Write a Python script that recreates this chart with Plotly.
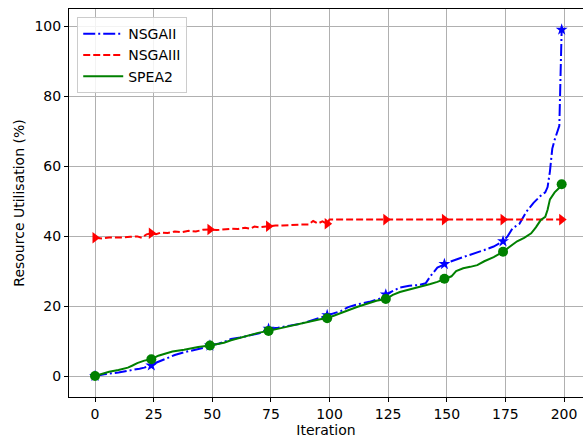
import plotly.graph_objects as go

# ---- data ----
nsga2_x = [0, 4, 10, 15, 19, 21, 24, 26, 28, 31, 34, 38, 42, 46, 49, 53, 56, 58, 62, 66, 70, 74,
           78, 83, 88, 92, 96, 99, 102, 105, 108, 112, 117, 121, 124, 127, 130, 134, 138, 141, 143,
           146, 149, 152, 157, 162, 166, 170, 174, 176, 178, 181, 184, 187, 190, 192, 193, 194, 195,
           196, 197, 198, 199]
nsga2_y = [0, 0.5, 1.0, 1.5, 2.1, 2.4, 3.0, 3.8, 4.4, 5.2, 6.0, 6.8, 7.3, 8.0, 8.7, 9.3, 10.0, 10.6,
           11.0, 11.6, 12.2, 13.5, 13.8, 14.4, 15.0, 15.8, 16.6, 17.4, 18.0, 18.6, 19.7, 20.5, 21.2,
           22.0, 23.3, 24.2, 25.3, 25.8, 26.0, 26.5, 28.5, 31.0, 32.0, 32.8, 34.0, 35.0, 36.0, 37.0,
           38.5, 40.0, 42.2, 43.5, 47.0, 49.5, 51.5, 52.5, 54.0, 58.5, 65.0, 67.5, 69.5, 71.5, 99.0]

nsga3_x = [0, 3, 6, 9, 12, 15, 18, 20, 22, 24, 26, 28, 31, 34, 37, 40, 43, 46, 49, 52, 55, 58, 61,
           64, 66, 68, 70, 74, 77, 80, 84, 88, 91, 93, 95, 97, 99, 100, 124, 149, 174, 199]
nsga3_y = [39.5, 39.3, 39.6, 39.5, 39.6, 39.8, 39.9, 39.5, 40.5, 40.8, 40.5, 41.0, 40.9, 41.3, 41.1,
           41.5, 41.3, 41.8, 41.9, 41.7, 42.0, 42.1, 42.0, 42.4, 42.1, 42.7, 42.5, 42.8, 43.0, 43.0,
           43.2, 43.3, 43.3, 44.3, 43.6, 44.2, 43.5, 44.7, 44.7, 44.7, 44.7, 44.7]

spea2_x = [0, 3, 6, 10, 14, 16, 18, 21, 24, 27, 30, 33, 38, 44, 49, 52, 55, 58, 61, 64, 67, 70, 74,
           78, 83, 88, 92, 96, 99, 102, 105, 108, 112, 117, 120, 124, 127, 130, 133, 136, 140, 143,
           146, 149, 152, 154, 157, 160, 163, 166, 170, 174, 177, 180, 183, 186, 188, 190, 192, 193,
           194, 196, 198, 199]
spea2_y = [0, 0.7, 1.2, 1.7, 2.4, 3.0, 3.7, 4.4, 4.8, 5.8, 6.5, 7.0, 7.5, 8.3, 8.7, 9.0, 9.5, 10.2,
           10.8, 11.3, 11.9, 12.4, 12.9, 13.5, 14.3, 15.0, 15.8, 16.2, 16.5, 17.2, 18.0, 18.8, 19.8,
           21.0, 21.5, 22.0, 23.2, 24.0, 24.5, 25.0, 25.7, 26.3, 26.9, 27.8, 28.5, 30.0, 30.8, 31.2,
           31.7, 32.8, 34.0, 35.5, 37.0, 38.5, 39.5, 40.8, 42.5, 44.5, 45.5, 47.5, 50.5, 52.5, 53.8,
           54.8]

marker_iters = [0, 24, 49, 74, 99, 124, 149, 174, 199]

x_ticks = [0, 25, 50, 75, 100, 125, 150, 175, 200]
y_ticks = [0, 20, 40, 60, 80, 100]

series = [
    ("NSGAII", nsga2_x, nsga2_y, "blue", "12px,3px,2px,3px", "star", 9),
    ("NSGAIII", nsga3_x, nsga3_y, "red", "7px,3px", "triangle-right", 10),
    ("SPEA2", spea2_x, spea2_y, "green", "solid", "circle", 10),
]

fig = go.Figure()
for name, xs, ys, color, dash, sym, msize in series:
    fig.add_trace(go.Scatter(x=xs, y=ys, mode="lines", name=name,
                             line=dict(color=color, width=2, dash=dash)))
    mx = [x for x in xs if x in marker_iters]
    my = [y for x, y in zip(xs, ys) if x in marker_iters]
    fig.add_trace(go.Scatter(x=mx, y=my, mode="markers", showlegend=False,
                             marker=dict(color=color, symbol=sym, size=msize,
                                         line=dict(width=0))))

font = "DejaVu Sans, Liberation Sans, sans-serif"
fig.update_layout(
    width=583, height=440,
    margin=dict(l=69, r=0, t=9, b=43, autoexpand=False),
    paper_bgcolor="white", plot_bgcolor="white",
    font=dict(family=font, size=14, color="black"),
    showlegend=True,
    legend=dict(x=0.016, y=0.979, xanchor="left", yanchor="top",
                bgcolor="rgba(255,255,255,0.85)", bordercolor="#cccccc", borderwidth=1,
                font=dict(family=font, size=14), itemwidth=40, tracegroupgap=0),
    xaxis=dict(range=[-11.1, 208.1], tickvals=x_ticks, ticktext=[str(v) for v in x_ticks],
               automargin=False,
               showgrid=True, gridcolor="#b0b0b0", gridwidth=1,
               showline=True, linecolor="black", linewidth=1, mirror=True,
               ticks="outside", ticklen=4, tickcolor="black", zeroline=False,
               title=dict(text="Iteration", standoff=4, font=dict(size=14))),
    yaxis=dict(range=[-6.0, 104.9], tickvals=y_ticks, ticktext=[str(v) for v in y_ticks],
               automargin=False,
               showgrid=True, gridcolor="#b0b0b0", gridwidth=1,
               showline=True, linecolor="black", linewidth=1, mirror=False,
               ticks="outside", ticklen=4, tickcolor="black", zeroline=False,
               title=dict(text="Resource Utilisation (%)", standoff=6, font=dict(size=14))),
)

fig.write_html("out.html", config={"displayModeBar": False},
               post_script="document.body.style.margin='0px';document.body.style.overflow='hidden';")
